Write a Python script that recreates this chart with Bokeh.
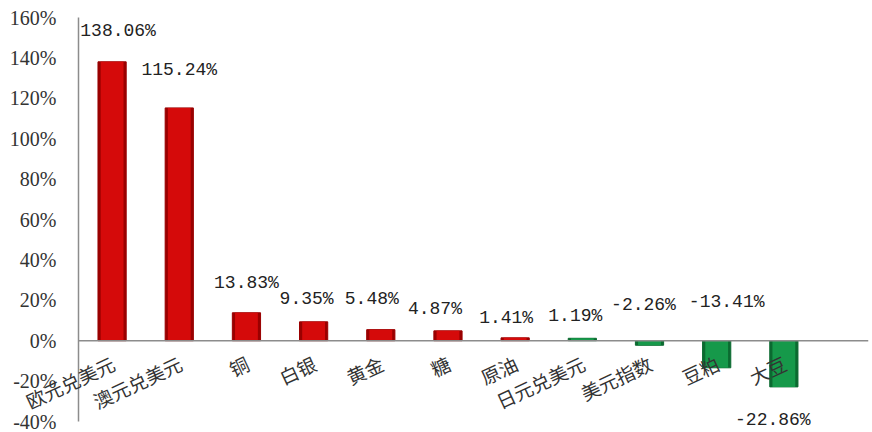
from bokeh.plotting import figure
from bokeh.models import ColumnDataSource, Range1d, FixedTicker, PrintfTickFormatter, Span
from bokeh.core.properties import value
from bokeh.embed import file_html
from bokeh.resources import INLINE

# ---- data ----
categories = ["欧元兑美元", "澳元兑美元", "铜", "白银", "黄金", "糖", "原油",
              "日元兑美元", "美元指数", "豆粕", "大豆"]
changes = [138.06, 115.24, 13.83, 9.35, 5.48, 4.87, 1.41, 1.19, -2.26, -13.41, -22.86]
value_labels = ["138.06%", "115.24%", "13.83%", "9.35%", "5.48%", "4.87%", "1.41%",
                "1.19%", "-2.26%", "-13.41%", "-22.86%"]
y_ticks = [-40, -20, 0, 20, 40, 60, 80, 100, 120, 140, 160]

# ---- styling (per-bar colours and label nudges in screen pixels, +y = down) ----
fill_colors = ["#d50a0a"] * 7 + ["#16994a"] * 4
edge_colors = ["#9a0000"] * 7 + ["#0b6a30"] * 4
label_dx = [6, 0, 0, -7, -9, -13, -9, -7, -6, 10, -11]
label_dy = [-31, -38, -30, -23, -31, -22, -20, -22, -40, -66, 33]

x = list(range(len(categories)))
src = ColumnDataSource(dict(x=x, top=changes, fill=fill_colors, edge=edge_colors,
                            lab=value_labels, dx=label_dx, dy=label_dy,
                            cat=categories, zero=[0] * len(x)))

p = figure(width=872, height=432, output_backend="svg", toolbar_location=None,
           x_range=Range1d(-0.5, 11.26), y_range=Range1d(-40, 160),
           min_border_left=78, min_border_right=4, min_border_top=17, min_border_bottom=11)
p.outline_line_color = None
p.xgrid.visible = False
p.ygrid.visible = False
p.xaxis.visible = False

yax = p.yaxis[0]
yax.ticker = FixedTicker(ticks=y_ticks)
yax.formatter = PrintfTickFormatter(format="%d%%")
yax.major_tick_line_color = None
yax.minor_tick_line_color = None
yax.axis_line_color = "#8c8c8c"
yax.axis_line_width = 1.5
yax.major_label_text_font = "Liberation Serif"
yax.major_label_text_font_size = "20px"
yax.major_label_text_color = "#333333"
yax.major_label_standoff = 16

# bars: dark edge + brighter face
p.vbar(x="x", top="top", bottom=0, width=0.42, source=src,
       fill_color="edge", line_color="edge")
p.vbar(x="x", top="top", bottom=0, width=0.34, source=src,
       fill_color="fill", line_color=None)

p.add_layout(Span(location=0, dimension="width", line_color="#8c8c8c", line_width=1.5))

# value labels
p.text(x="x", y="top", text="lab", source=src, x_offset="dx", y_offset="dy",
       text_align="center", text_baseline="middle", level="overlay",
       text_font=value("Liberation Mono"), text_font_size="18px", text_color="#222222")

# category labels (rotated, right end at bar centre under the zero line)
p.text(x="x", y="zero", text="cat", source=src, x_offset=1, y_offset=21,
       angle=0.436, text_align="right", text_baseline="middle", level="overlay",
       text_font=value("Noto Sans CJK SC"), text_font_size="19px", text_color="#333333")

open("out.html", "w").write(file_html(p, INLINE))
